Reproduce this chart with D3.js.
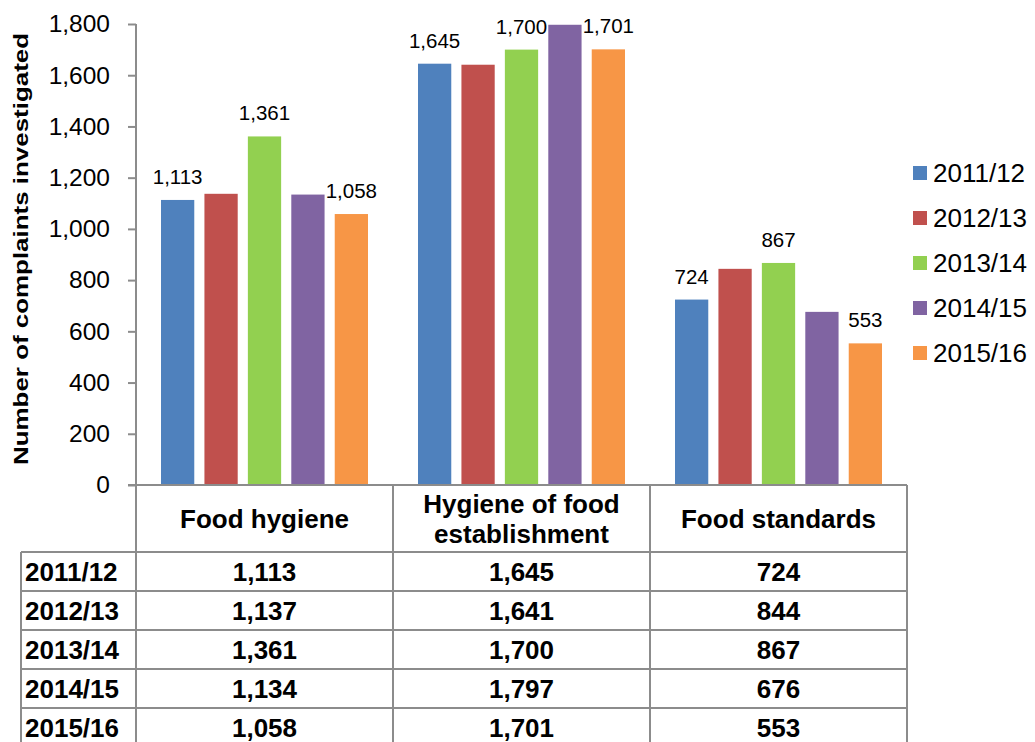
<!DOCTYPE html>
<html>
<head>
<meta charset="utf-8">
<script src="https://cdn.jsdelivr.net/npm/d3@7"></script>
<style>
  html, body { margin: 0; padding: 0; background: #fff; }
  svg { display: block; font-family: "Liberation Sans", Arial, sans-serif; }
</style>
</head>
<body>
<svg id="chart" width="1035" height="742"></svg>
<script>
// Complaints investigated, by complaint type and year
const categories = ["Food hygiene", "Hygiene of food establishment", "Food standards"];
const headerLines = [["Food hygiene"], ["Hygiene of food", "establishment"], ["Food standards"]];
const years = ["2011/12", "2012/13", "2013/14", "2014/15", "2015/16"];
const values2011 = [1113, 1645, 724];
const values2012 = [1137, 1641, 844];
const values2013 = [1361, 1700, 867];
const values2014 = [1134, 1797, 676];
const values2015 = [1058, 1701, 553];
const seriesValues = [values2011, values2012, values2013, values2014, values2015];
const labelledYears = ["2011/12", "2013/14", "2015/16"];
const yTicks = [0, 200, 400, 600, 800, 1000, 1200, 1400, 1600, 1800];
const colors = ["#4F81BD", "#C0504D", "#92D050", "#8064A2", "#F79646"];

const svg = d3.select("#chart");
const fmt = d3.format(",");

const plot = { left: 136, right: 907, top: 24, bottom: 485 };
const gridColor = "#8c8c8c";

const x = d3.scaleBand().domain(categories).range([plot.left, plot.right]).padding(0);
const xs = d3.scaleBand().domain(years)
  .range([25, x.bandwidth() - 25]).paddingInner(0.234).paddingOuter(0);
const y = d3.scaleLinear().domain([0, 1800]).range([plot.bottom, plot.top]);

// bars
const rows = [];
years.forEach((yr, i) => categories.forEach((c, j) => rows.push({ yr, c, v: seriesValues[i][j], i })));

svg.append("g").selectAll("rect").data(rows).join("rect")
  .attr("x", d => x(d.c) + xs(d.yr))
  .attr("y", d => y(d.v))
  .attr("width", xs.bandwidth())
  .attr("height", d => y(0) - y(d.v))
  .attr("fill", d => colors[d.i]);

// value labels
svg.append("g").selectAll("text").data(rows.filter(d => labelledYears.includes(d.yr))).join("text")
  .attr("x", d => x(d.c) + xs(d.yr) + xs.bandwidth() / 2)
  .attr("y", d => y(d.v) - 16)
  .attr("text-anchor", "middle")
  .attr("font-size", 20.5)
  .attr("fill", "#000")
  .text(d => fmt(d.v));

// y axis
const yAxis = d3.axisLeft(y).tickValues(yTicks).tickFormat(fmt).tickSize(8).tickPadding(18);
const gy = svg.append("g").attr("transform", `translate(${plot.left},0)`).call(yAxis);
gy.select(".domain").attr("stroke", gridColor).attr("stroke-width", 2).attr("d", `M0,${plot.top}V${plot.bottom}`);
gy.selectAll(".tick line").attr("stroke", gridColor).attr("stroke-width", 2);
gy.selectAll(".tick text").attr("font-size", 24.5).attr("fill", "#000")
  .attr("font-family", "Liberation Sans, Arial, sans-serif");

svg.append("text")
  .attr("transform", `translate(28,249) rotate(-90)`)
  .attr("text-anchor", "middle")
  .attr("font-size", 21)
  .attr("font-weight", "bold")
  .attr("textLength", 432)
  .attr("lengthAdjust", "spacingAndGlyphs")
  .text("Number of complaints investigated");

// data table beneath the axis
const tableLeft = 21;
const headerBottom = 552;
const rowH = 39;
const tableBottom = headerBottom + rowH * years.length;
const tg = svg.append("g");

// horizontal rules
tg.append("line").attr("x1", plot.left - 8).attr("x2", plot.right)
  .attr("y1", plot.bottom).attr("y2", plot.bottom);
years.forEach((yr, i) => {
  tg.append("line").attr("x1", tableLeft).attr("x2", plot.right)
    .attr("y1", headerBottom + i * rowH).attr("y2", headerBottom + i * rowH);
});
// vertical rules
tg.append("line").attr("x1", tableLeft).attr("x2", tableLeft).attr("y1", headerBottom).attr("y2", tableBottom);
[plot.left, ...categories.map(c => x(c) + x.bandwidth())].forEach(xv => {
  tg.append("line").attr("x1", xv).attr("x2", xv).attr("y1", plot.bottom).attr("y2", tableBottom);
});
tg.selectAll("line").attr("stroke", gridColor).attr("stroke-width", 2);

// column headers
categories.forEach((c, j) => {
  const lines = headerLines[j];
  const cy = (plot.bottom + headerBottom) / 2;
  lines.forEach((ln, k) => {
    tg.append("text")
      .attr("x", x(c) + x.bandwidth() / 2)
      .attr("y", cy + (k - (lines.length - 1) / 2) * 30)
      .attr("dy", "0.36em")
      .attr("text-anchor", "middle")
      .attr("font-size", 26).attr("font-weight", "bold")
      .text(ln);
  });
});

// row labels and cells
years.forEach((yr, i) => {
  const cy = headerBottom + i * rowH + rowH / 2;
  tg.append("text").attr("x", tableLeft + 4).attr("y", cy).attr("dy", "0.36em")
    .attr("font-size", 26).attr("font-weight", "bold").text(yr);
  categories.forEach((c, j) => {
    tg.append("text").attr("x", x(c) + x.bandwidth() / 2).attr("y", cy).attr("dy", "0.36em")
      .attr("text-anchor", "middle")
      .attr("font-size", 26).attr("font-weight", "bold")
      .text(fmt(seriesValues[i][j]));
  });
});

// legend
const lg = svg.append("g").attr("transform", "translate(913,173)");
years.forEach((yr, i) => {
  const g = lg.append("g").attr("transform", `translate(0,${i * 45})`);
  g.append("rect").attr("x", 0).attr("y", -7).attr("width", 14).attr("height", 14).attr("fill", colors[i]);
  g.append("text").attr("x", 20).attr("y", 0).attr("dy", "0.36em").attr("font-size", 26).text(yr);
});
</script>
</body>
</html>
